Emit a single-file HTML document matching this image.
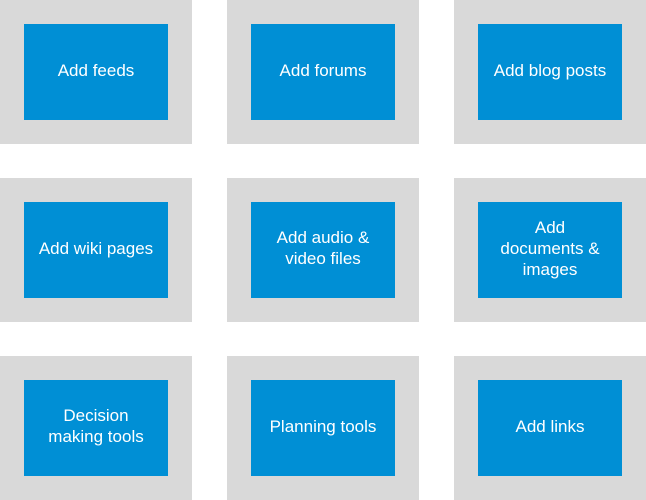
<!DOCTYPE html>
<html><head><style>
body{margin:0;width:646px;height:500px;background:#fff;position:relative;overflow:hidden;font-family:"Liberation Sans",sans-serif}
.g{position:absolute;width:192px;height:144px;background:#d9d9d9}
.b{position:absolute;left:24px;top:24px;width:144px;height:96px;background:#008fd5;color:#fff;font-size:17px;line-height:21px;display:flex;align-items:center;justify-content:center;text-align:center}
.b span{position:relative;top:-2px}
</style></head><body>
<div class="g" style="left:0;top:0"><div class="b"><span>Add feeds</span></div></div>
<div class="g" style="left:227px;top:0"><div class="b"><span>Add forums</span></div></div>
<div class="g" style="left:454px;top:0"><div class="b"><span>Add blog posts</span></div></div>
<div class="g" style="left:0;top:178px"><div class="b"><span>Add wiki pages</span></div></div>
<div class="g" style="left:227px;top:178px"><div class="b"><span>Add audio &amp;<br>video files</span></div></div>
<div class="g" style="left:454px;top:178px"><div class="b"><span>Add<br>documents &amp;<br>images</span></div></div>
<div class="g" style="left:0;top:356px"><div class="b"><span>Decision<br>making tools</span></div></div>
<div class="g" style="left:227px;top:356px"><div class="b"><span>Planning tools</span></div></div>
<div class="g" style="left:454px;top:356px"><div class="b"><span>Add links</span></div></div>
</body></html>
